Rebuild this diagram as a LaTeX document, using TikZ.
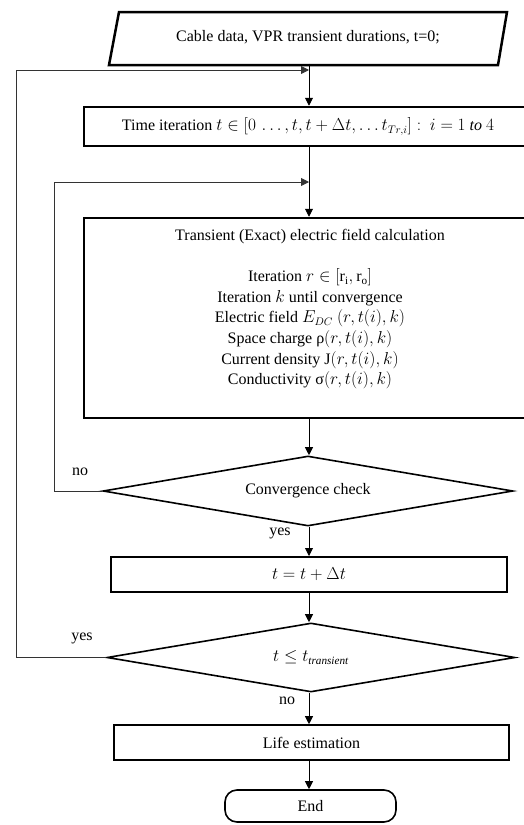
\documentclass[tikz,border=0pt]{standalone}
\usepackage{fontspec}
\setmainfont{Liberation Serif}
\usetikzlibrary{shapes.geometric,arrows.meta}
\begin{document}
\begin{tikzpicture}[x=1pt,y=-1pt,
  box/.style={draw, rectangle, inner sep=0pt, font=\fontsize{16}{19}\selectfont},
  dec/.style={draw, diamond, aspect=5.8, inner sep=0pt, line width=1.6pt, font=\fontsize{16}{19}\selectfont},
  conn/.style={line width=0.9pt, -{Triangle[length=8pt,width=8pt]}},
  loopline/.style={line width=0.9pt, draw=black!80, -{Triangle[length=8pt,width=8pt]}},
  lbl/.style={inner sep=0pt, font=\fontsize{16}{19}\selectfont}]
\useasboundingbox (0,0) rectangle (524,825);
\clip (0,0) rectangle (524,825);
% input parallelogram
\draw[line width=2.5pt, line join=miter] (119,12) -- (507,12) -- (498,65) -- (109,65) -- cycle;
\node (input) [inner sep=0pt, minimum width=380pt, minimum height=53pt, font=\fontsize{16}{19}\selectfont] at (308,37) {Cable data, VPR transient durations, t=0;};
% time iteration
\node (time) [box, line width=2.5pt, minimum width=448pt, minimum height=39pt] at (308,126.5)
  {Time iteration $t\in\bigl[0\,\ldots,t,t+\Delta t,\ldots t_{Tr,i}\bigr]:\ i=1\ \mathit{to}\ 4$};
% big box
\node (calc) [box, line width=2.5pt, minimum width=448pt, minimum height=200pt] at (308,318) {};
\node (calctext) [inner sep=0pt, anchor=north, align=center, font=\fontsize{16}{20.6}\selectfont] at (310,229)
  {Transient (Exact) electric field calculation\\[20.6pt]
   Iteration $r\in[\mathrm{r_i},\mathrm{r_o}]$\\
   Iteration $k$ until convergence\\
   Electric field $E_{DC}\ (r,t(i),k)$\\
   Space charge ρ$(r,t(i),k)$\\
   Current density J$(r,t(i),k)$\\
   Conductivity σ$(r,t(i),k)$};
% convergence check
\node (conv) [dec, minimum width=410pt, minimum height=70pt] at (308,491) {Convergence check};
% t = t + dt
\node (inc) [box, line width=2pt, minimum width=396pt, minimum height=35pt] at (309,574.5) {$t=t+\Delta t$};
% transient check
\node (tcheck) [dec, minimum width=408pt, minimum height=69pt] at (311,657.5) {$t\leq t_{\mathit{transient}}$};
% life estimation
\node (life) [box, line width=1.6pt, minimum width=395pt, minimum height=35pt] at (311.5,742.5) {Life estimation};
% end
\node (end) [draw, rectangle, rounded corners=12pt, line width=1.6pt, inner sep=0pt, minimum width=171pt, minimum height=32pt, font=\fontsize{16}{19}\selectfont] at (310.5,806) {End};
% merge coordinates
\coordinate (m1) at (309,70);
\coordinate (m2) at (309,182);
\coordinate (outerx) at (16,0);
\coordinate (innerx) at (54,0);
% main connectors
\draw[conn] (input.south -| m1) -- (time.north -| m1);
\draw[conn] (time.south -| m1) -- (calc.north -| m1);
\draw[conn] (calc.south -| m1) -- (conv.north -| m1);
\draw[conn] (conv.south -| m1) -- (inc.north -| m1);
\draw[conn] (inc.south -| m1) -- (tcheck.north -| m1);
\draw[conn] (tcheck.south -| m1) -- (life.north -| m1);
\draw[conn] (life.south -| m1) -- (end.north -| m1);
% loops
\draw[loopline] (conv.west) -- (conv.west -| innerx) |- (m2);
\draw[loopline] (tcheck.west) -- (tcheck.west -| outerx) |- (m1);
% labels
\node (no1) [lbl] at (80,472) {no};
\node (yes1) [lbl] at (280,533) {yes};
\node (yes2) [lbl] at (82,638) {yes};
\node (no2) [lbl] at (287,701) {no};
\end{tikzpicture}
\end{document}
